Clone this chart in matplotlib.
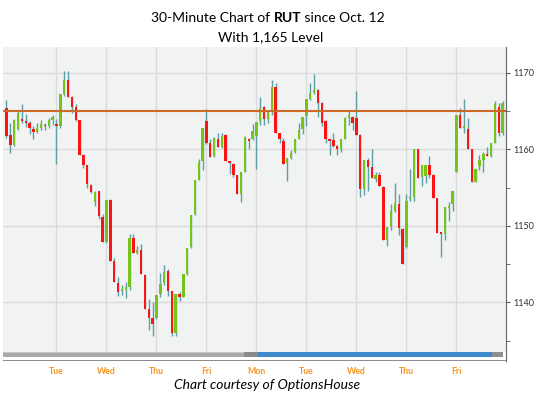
import numpy as np
import matplotlib
matplotlib.use("Agg")
import matplotlib.pyplot as plt
from matplotlib.patches import Rectangle

# 30-minute RUT bars, Oct 12 onward (13 bars per session)
opens = [1165.4, 1161.9, 1160.6, 1162.7, 1164.0, 1163.7, 1163.5, 1162.7, 1162.3, 1162.8, 1163.2, 1163.0, 1163.8,
         1163.3, 1163.0, 1167.2, 1169.1, 1166.9, 1165.5, 1163.8, 1159.3, 1157.9, 1155.4, 1153.1, 1154.5, 1151.2,
         1147.9, 1153.4, 1145.4, 1142.5, 1141.5, 1141.6, 1142.0, 1148.4, 1146.5, 1146.9, 1143.6, 1139.1, 1137.9,
         1138.0, 1141.1, 1142.5, 1144.1, 1141.5, 1136.0, 1141.1, 1140.7, 1143.7, 1147.2, 1151.5, 1156.0, 1158.5,
         1163.7, 1160.9, 1159.1, 1161.4, 1160.3, 1161.9, 1158.4, 1158.1, 1156.6, 1154.2, 1157.1, 1161.4, 1161.3,
         1161.8, 1163.7, 1165.6, 1164.0, 1165.2, 1168.2, 1162.1, 1161.1, 1158.2, 1158.9, 1159.6, 1161.4, 1162.7,
         1164.4, 1166.6, 1167.4, 1167.8, 1166.1, 1163.7, 1161.4, 1161.2, 1160.5, 1160.0, 1161.4, 1164.1, 1164.3,
         1164.1, 1161.9, 1154.8, 1158.6, 1157.7, 1156.1, 1156.6, 1155.1, 1148.1, 1150.0, 1151.9, 1152.9, 1149.6,
         1147.2, 1153.5, 1153.8, 1160.0, 1156.4, 1156.5, 1158.0, 1156.7, 1153.6, 1149.1, 1149.0, 1152.4, 1152.8,
         1157.1, 1164.5, 1162.8, 1162.7, 1160.0, 1155.8, 1157.8, 1158.6, 1159.4, 1159.2, 1160.9, 1165.6, 1162.1]
highs = [1166.5, 1163.5, 1164.0, 1165.2, 1165.9, 1164.6, 1163.7, 1163.0, 1163.5, 1163.8, 1163.5, 1164.1, 1164.5,
         1164.0, 1167.2, 1170.2, 1170.3, 1167.0, 1166.0, 1163.9, 1159.4, 1158.0, 1155.5, 1154.6, 1154.6, 1151.6,
         1153.4, 1153.5, 1145.8, 1143.3, 1142.3, 1142.6, 1148.9, 1148.9, 1147.4, 1147.6, 1143.7, 1140.4, 1140.0,
         1141.0, 1143.8, 1144.9, 1144.4, 1141.5, 1141.1, 1141.4, 1143.7, 1147.1, 1151.4, 1156.0, 1158.8, 1162.8,
         1165.3, 1161.4, 1161.6, 1162.2, 1162.1, 1162.0, 1158.5, 1158.2, 1156.7, 1157.0, 1161.7, 1161.5, 1163.3,
         1163.6, 1166.9, 1165.7, 1165.2, 1169.1, 1168.7, 1162.2, 1161.5, 1158.9, 1159.9, 1161.4, 1163.4, 1164.3,
         1166.6, 1168.7, 1169.9, 1167.9, 1166.2, 1163.8, 1161.5, 1162.2, 1160.6, 1161.4, 1164.2, 1165.1, 1164.4,
         1167.7, 1162.0, 1158.6, 1158.9, 1160.1, 1157.1, 1157.0, 1155.2, 1149.9, 1152.9, 1155.6, 1154.2, 1149.7,
         1154.2, 1157.4, 1160.0, 1160.1, 1157.9, 1158.0, 1159.1, 1156.8, 1153.7, 1149.2, 1152.5, 1153.1, 1154.5,
         1164.5, 1165.4, 1166.6, 1164.1, 1160.1, 1157.4, 1159.3, 1159.6, 1160.3, 1160.9, 1166.4, 1166.1, 1166.3]
lows = [1161.5, 1159.5, 1160.4, 1162.5, 1163.5, 1162.9, 1162.0, 1161.4, 1162.1, 1162.6, 1162.6, 1162.8, 1163.2,
        1158.1, 1162.8, 1167.0, 1166.9, 1164.8, 1163.7, 1159.3, 1157.6, 1155.0, 1154.3, 1152.6, 1150.9, 1147.9,
        1147.8, 1145.4, 1142.6, 1140.8, 1140.9, 1140.6, 1141.6, 1146.5, 1146.3, 1143.7, 1139.1, 1136.4, 1135.6,
        1137.8, 1140.7, 1142.3, 1140.8, 1135.6, 1135.6, 1140.2, 1140.7, 1143.6, 1147.1, 1151.4, 1156.0, 1157.3,
        1160.7, 1159.0, 1159.0, 1160.3, 1160.2, 1158.5, 1156.8, 1156.4, 1154.2, 1153.1, 1157.0, 1160.1, 1161.2,
        1157.5, 1163.2, 1163.2, 1163.4, 1164.5, 1162.1, 1160.9, 1158.1, 1155.9, 1158.8, 1159.5, 1161.3, 1162.0,
        1163.1, 1166.5, 1167.3, 1164.2, 1163.0, 1160.8, 1159.3, 1160.3, 1159.3, 1159.6, 1161.3, 1163.2, 1162.5,
        1161.9, 1153.8, 1154.1, 1154.6, 1156.2, 1155.8, 1155.2, 1148.1, 1147.4, 1149.4, 1151.8, 1148.8, 1145.0,
        1147.1, 1153.2, 1153.2, 1156.2, 1155.2, 1155.6, 1156.3, 1153.6, 1149.1, 1145.9, 1148.1, 1150.6, 1152.0,
        1157.0, 1162.8, 1162.1, 1160.0, 1155.8, 1155.7, 1157.3, 1157.1, 1159.1, 1159.0, 1160.8, 1161.7, 1161.9]
closes = [1161.8, 1160.6, 1163.8, 1164.8, 1163.7, 1163.4, 1162.8, 1162.3, 1162.8, 1163.3, 1163.0, 1163.8, 1164.3,
          1163.0, 1167.2, 1169.1, 1166.9, 1165.6, 1163.8, 1159.3, 1157.9, 1155.5, 1154.4, 1154.4, 1151.3, 1147.9,
          1153.4, 1145.4, 1142.6, 1141.4, 1141.7, 1142.0, 1148.4, 1146.5, 1146.9, 1143.7, 1139.1, 1137.9, 1137.2,
          1141.0, 1142.4, 1144.0, 1141.5, 1136.0, 1141.1, 1140.7, 1143.7, 1147.1, 1151.4, 1156.0, 1158.4, 1162.8,
          1160.9, 1159.0, 1161.5, 1160.3, 1161.8, 1158.5, 1158.2, 1156.6, 1154.2, 1157.0, 1161.6, 1161.1, 1162.4,
          1163.6, 1165.4, 1164.0, 1165.0, 1168.2, 1162.1, 1161.3, 1158.1, 1158.9, 1159.5, 1161.4, 1162.6, 1164.3,
          1166.6, 1167.4, 1167.8, 1166.1, 1163.5, 1161.4, 1161.1, 1160.5, 1160.0, 1161.4, 1164.1, 1164.5, 1163.4,
          1161.9, 1154.8, 1158.6, 1157.7, 1156.2, 1156.6, 1155.2, 1148.1, 1149.9, 1151.9, 1153.0, 1149.7, 1145.0,
          1153.3, 1153.8, 1160.0, 1156.2, 1157.9, 1158.0, 1156.7, 1153.6, 1149.1, 1148.9, 1152.5, 1152.6, 1154.5,
          1164.5, 1162.8, 1163.0, 1160.0, 1155.8, 1157.4, 1158.6, 1159.4, 1159.2, 1160.9, 1165.9, 1162.1, 1166.1]
day_labels = ["Tue", "Wed", "Thu", "Fri", "Mon", "Tue", "Wed", "Thu", "Fri"]
bars_per_day = 13
level = 1165
price_ticks = [1140, 1150, 1160, 1170]

plt.rcParams['font.family'] = ['Lato', 'DejaVu Sans']
W, H = 534, 394
fig = plt.figure(figsize=(W/100, H/100), dpi=100)
ax = fig.add_axes([3/W, 1-352/H, 503/W, 305/H])
ax.set_facecolor("#f1f2f2")

o = np.array(opens); c = np.array(closes)
x = np.arange(len(o))
up = c >= o
GREEN, RED, WICK = "#74c41c", "#fb1414", "#5f9ea6"
ax.vlines(x, lows, highs, color=WICK, lw=1.0, zorder=2)
body = np.maximum(np.abs(c-o), 0.25)
ax.bar(x, body, bottom=np.minimum(o, c), width=0.62, color=np.where(up, GREEN, RED), lw=0, zorder=3)
ax.axhline(level, color="#cc6a2a", lw=1.5, zorder=4)

ax.set_xlim(-0.91, 129.9); ax.set_ylim(1133.5, 1173.4)
day_starts = [bars_per_day*(k+1) for k in range(len(day_labels))]
for d in day_starts:
    ax.axvline(d, color="#dadada", lw=1.0, zorder=1)
for p in price_ticks:
    ax.axhline(p, color="#dadada", lw=1.0, zorder=1)

ax.yaxis.tick_right()
ax.set_yticks(price_ticks)
ax.set_yticks([1135, 1145, 1155, 1165], minor=True)
ax.tick_params(axis="y", which="both", length=3, color="#555555", labelsize=6.5, labelcolor="#333333", pad=2)
ax.set_xticks([])
for s in ["top", "left", "bottom"]:
    ax.spines[s].set_visible(False)
ax.spines["right"].set_color("#666666")

# scrollbar strip under the chart
sb = fig.add_axes([3/W, 1-361/H, 503/W, 9/H])
sb.set_xlim(ax.get_xlim()); sb.set_ylim(0, 1)
sb.add_patch(Rectangle((0, 0.4), 0.484, 0.6, transform=sb.transAxes, color="#a9a9a9", lw=0))
sb.add_patch(Rectangle((0, 0.85), 0.484, 0.15, transform=sb.transAxes, color="#c8c8c8", lw=0))
sb.add_patch(Rectangle((0.480, 0.4), 0.027, 0.6, transform=sb.transAxes, color="#8a8a8a", lw=0))
sb.add_patch(Rectangle((0.507, 0.4), 0.466, 0.6, transform=sb.transAxes, color="#3d89cc", lw=0))
sb.add_patch(Rectangle((0.973, 0.4), 0.022, 0.6, transform=sb.transAxes, color="#8f8f8f", lw=0))
sb.axhline(0.05, color="#777777", lw=1.2)
sb.set_xticks(day_starts)
sb.set_xticklabels(day_labels)
sb.tick_params(axis="x", length=0, labelsize=6.3, labelcolor="#f7941d", pad=4)
sb.set_yticks([])
for s in ["top", "left", "bottom"]:
    sb.spines[s].set_visible(False)
sb.spines["right"].set_color("#666666")
for t in sb.get_xticklabels():
    t.set_fontweight("bold")

# title with bold ticker
fig.canvas.draw()
r = fig.canvas.get_renderer()
parts = [("30-Minute Chart of ", "normal"), ("RUT", "bold"), (" since Oct. 12", "normal")]
texts = [fig.text(0, 1-18/H, s, fontsize=10, fontweight=w, va="center", ha="left") for s, w in parts]
widths = [t.get_window_extent(r).width for t in texts]
x0 = 268 - sum(widths)/2
for t, w in zip(texts, widths):
    t.set_x(x0/W); x0 += w
fig.text(271/W, 1-37/H, "With 1,165 Level", fontsize=10, ha="center", va="center")
fig.text(267/W, 1-385/H, "Chart courtesy of OptionsHouse", fontsize=10, style="italic", ha="center", va="center")

fig.savefig("out.png", dpi=100)
